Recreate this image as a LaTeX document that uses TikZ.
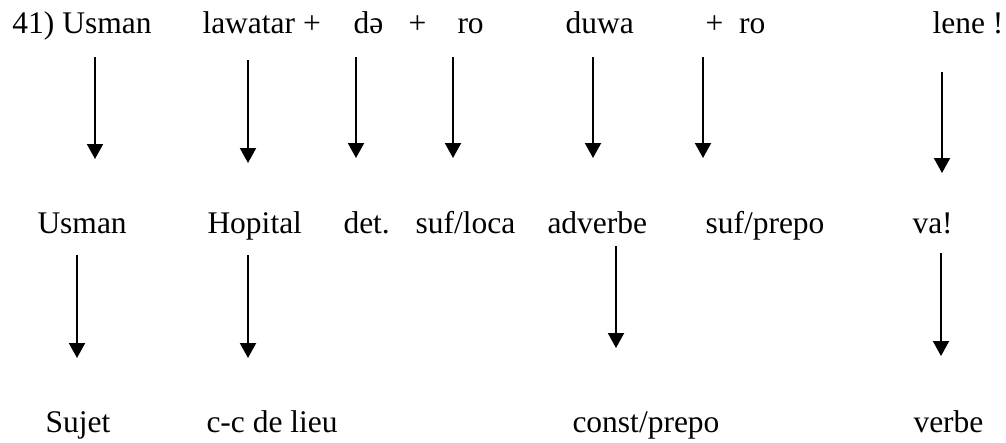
\documentclass[tikz,border=0pt]{standalone}
\usepackage{fontspec}
\setmainfont{Liberation Serif}
\usepackage{tikz}
\usetikzlibrary{arrows.meta}

\begin{document}
\begin{tikzpicture}[
		x=0.4pt, y=-0.4pt,
		>={Triangle[length=6pt,width=6.4pt]},
		word/.style={anchor=base west, inner sep=0pt, font=\fontsize{12.6}{15}\selectfont},
		arr/.style={->, line width=0.8pt}
		]
		\useasboundingbox (0,0) rectangle (1006,442);
		
		% --------------------------------------------------
		% Top line: the sentence
		% --------------------------------------------------
		\node[word] (w1) at (12,33) {41) Usman};
		\node[word] (w2) at (202,33) {lawatar +};
		\node[word] (w3) at (353,33) {də};
		\node[word] (w4) at (408,33) {+};
		\node[word] (w5) at (457,33) {ro};
		\node[word] (w6) at (565,33) {duwa};
		\node[word] (w7) at (705,33) {+~~ro};
		\node[word] (w8) at (932,33) {lene !};
		
		% --------------------------------------------------
		% Middle line: glosses
		% --------------------------------------------------
		\node[word] (g1) at (37,233) {Usman};
		\node[word] (g2) at (207,233) {Hopital};
		\node[word] (g3) at (343,233) {det.};
		\node[word] (g4) at (415,233) {suf/loca};
		\node[word] (g5) at (547,233) {adverbe};
		\node[word] (g6) at (705,233) {suf/prepo};
		\node[word] (g7) at (912,233) {va!};
		
		% --------------------------------------------------
		% Bottom line: functions
		% --------------------------------------------------
		\node[word] (f1) at (45,432) {Sujet};
		\node[word] (f2) at (206,432) {c-c de lieu};
		\node[word] (f3) at (572,432) {const/prepo};
		\node[word] (f4) at (913,432) {verbe};
		
		% arrows
		\foreach \i/\x/\ya/\yb in {1/95/57/159, 2/248/60/163, 3/356/57/158,
			4/453/57/158, 5/593/57/158, 6/703/57/158, 7/942/72/173,
			8/77/255/358, 9/248/255/358, 10/616/246/348, 11/941/253/356}{
			\coordinate (s\i) at (\x,\ya);
			\coordinate (e\i) at (\x,\yb);
			\draw[arr] (s\i) -- (e\i);
		}
		
	\end{tikzpicture}
\end{document}
